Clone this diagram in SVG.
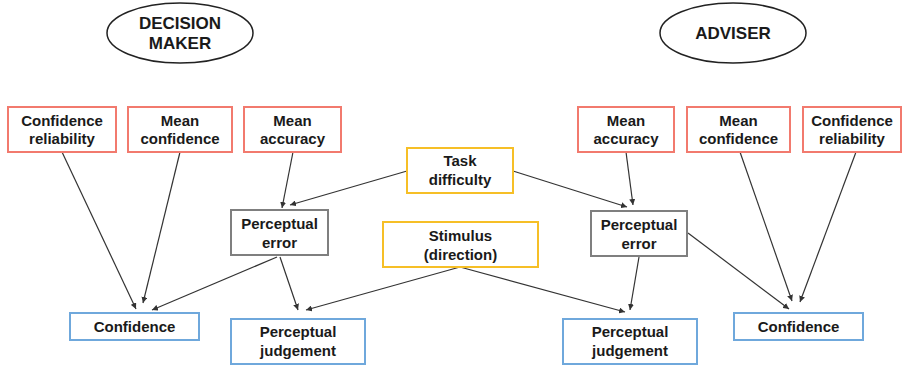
<svg xmlns="http://www.w3.org/2000/svg" width="902" height="368" viewBox="0 0 902 368">
<style>
text{font-family:"Liberation Sans",Arial,sans-serif;font-weight:bold;font-size:15px;fill:#1a1a1a;text-anchor:middle}
.ell{fill:#fff;stroke:#222;stroke-width:1.5}
.red{fill:#fff;stroke:#f27a6e;stroke-width:2}
.yel{fill:#fff;stroke:#f6bf26;stroke-width:2}
.gry{fill:#fff;stroke:#7f7f7f;stroke-width:2}
.blu{fill:#fff;stroke:#6fa8dc;stroke-width:2}
.big{font-size:17px}
#connectors line{stroke:#333;stroke-width:1.2;marker-end:url(#arr)}
</style>
<defs>
<marker id="arr" markerUnits="userSpaceOnUse" markerWidth="7" markerHeight="6" refX="6" refY="3" orient="auto">
<path d="M0,0 L6,3 L0,6 z" fill="#333"/>
</marker>
</defs>
<rect width="902" height="368" fill="#fff"/>
<g id="connectors">
<line x1="62" y1="152" x2="136" y2="309"/>
<line x1="180" y1="152" x2="143" y2="303"/>
<line x1="277" y1="257" x2="152" y2="310"/>
<line x1="280" y1="257" x2="298" y2="310"/>
<line x1="460" y1="267" x2="306" y2="310"/>
<line x1="460" y1="267" x2="625" y2="312"/>
<line x1="293" y1="152" x2="282" y2="208"/>
<line x1="407" y1="171" x2="290" y2="205"/>
<line x1="513" y1="171" x2="627" y2="207"/>
<line x1="626" y1="152" x2="633" y2="205"/>
<line x1="639" y1="257" x2="630" y2="310"/>
<line x1="688" y1="233" x2="789" y2="309"/>
<line x1="740" y1="152" x2="792" y2="301"/>
<line x1="856" y1="152" x2="800" y2="302"/>
</g>
<g id="decision-maker"><ellipse class="ell" cx="180" cy="33" rx="73" ry="30"/><text class="big" x="180" y="29">DECISION</text><text class="big" x="180" y="49">MAKER</text></g>
<g id="adviser"><ellipse class="ell" cx="733" cy="33" rx="73" ry="30"/><text class="big" x="733" y="39">ADVISER</text></g>
<g id="dm-conf-rel"><rect class="red" x="8" y="107" width="108" height="45"/><text x="62" y="126">Confidence</text><text x="62" y="144">reliability</text></g>
<g id="dm-mean-conf"><rect class="red" x="128" y="107" width="104" height="45"/><text x="180" y="126">Mean</text><text x="180" y="144">confidence</text></g>
<g id="dm-mean-acc"><rect class="red" x="244" y="107" width="97" height="45"/><text x="292.500" y="126">Mean</text><text x="292.500" y="144">accuracy</text></g>
<g id="ad-mean-acc"><rect class="red" x="578" y="107" width="96" height="45"/><text x="626" y="126">Mean</text><text x="626" y="144">accuracy</text></g>
<g id="ad-mean-conf"><rect class="red" x="687" y="107" width="103" height="45"/><text x="738.500" y="126">Mean</text><text x="738.500" y="144">confidence</text></g>
<g id="ad-conf-rel"><rect class="red" x="803" y="107" width="98" height="45"/><text x="852" y="126">Confidence</text><text x="852" y="144">reliability</text></g>
<g id="task-difficulty"><rect class="yel" x="407" y="148" width="106" height="45"/><text x="460" y="166">Task</text><text x="460" y="185">difficulty</text></g>
<g id="stimulus"><rect class="yel" x="383" y="222" width="155" height="45"/><text x="460.500" y="241">Stimulus</text><text x="460.500" y="260">(direction)</text></g>
<g id="dm-perc-error"><rect class="gry" x="231" y="210" width="97" height="45"/><text x="279.500" y="229">Perceptual</text><text x="279.500" y="248">error</text></g>
<g id="ad-perc-error"><rect class="gry" x="591" y="211" width="96" height="45"/><text x="639" y="230">Perceptual</text><text x="639" y="249">error</text></g>
<g id="dm-confidence"><rect class="blu" x="70" y="313" width="129" height="27"/><text x="134.500" y="332">Confidence</text></g>
<g id="dm-perc-judg"><rect class="blu" x="231" y="319" width="134" height="45"/><text x="298" y="337">Perceptual</text><text x="298" y="356">judgement</text></g>
<g id="ad-perc-judg"><rect class="blu" x="563" y="319" width="134" height="45"/><text x="630" y="337">Perceptual</text><text x="630" y="356">judgement</text></g>
<g id="ad-confidence"><rect class="blu" x="734" y="313" width="129" height="27"/><text x="798.500" y="332">Confidence</text></g>
</svg>
